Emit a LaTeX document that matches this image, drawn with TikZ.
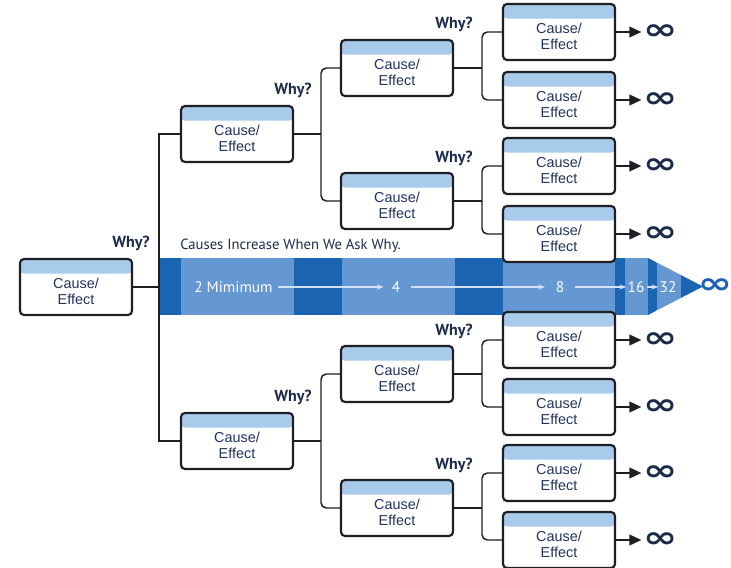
\documentclass[tikz,border=0pt]{standalone}
\usepackage{fontspec}
\setmainfont{Liberation Sans}
\newfontfamily\ptfont{PT Sans}
\newfontfamily\djfont{DejaVu Sans}
\usetikzlibrary{arrows.meta}
\definecolor{darkband}{HTML}{1B64B2}
\definecolor{medband}{HTML}{6598D2}
\definecolor{headblue}{HTML}{A9CBEB}
\definecolor{navy}{HTML}{1C2B4A}
\definecolor{boxtext}{HTML}{22345A}
\definecolor{boxline}{HTML}{1E1E24}
\definecolor{bandline}{HTML}{D2E2F4}
\newcommand\cebox[2]{%
  \node[cebox] (#1) at #2 {};
  \node[cetext] (#1t) at ([yshift=-3pt]#1.center) {Cause/\\Effect};}
\begin{document}
\begin{tikzpicture}[x=0.75pt,y=-0.75pt,
  cebox/.style={draw=boxline, line width=1.6pt, rounded corners=3pt, fill=white,
    minimum width=84pt, minimum height=42pt, inner sep=0pt,
    path picture={\fill[headblue] ([yshift=-11pt]path picture bounding box.north west) rectangle (path picture bounding box.north east);}},
  cetext/.style={font=\fontsize{10.8}{12}\selectfont, text=boxtext, align=center, inner sep=0pt},
  conn/.style={draw=boxline, line width=1.1pt, rounded corners=4pt},
  why/.style={font=\ptfont\bfseries\fontsize{12}{12}\selectfont, text=navy, inner sep=0pt},
  inf/.style={font=\djfont\bfseries\fontsize{22}{22}\selectfont, text=navy, inner sep=0pt, xscale=1.4},
  infarrow/.style={draw=boxline, line width=1.3pt, -{Triangle[length=9pt,width=8pt]}},
  bandtxt/.style={font=\ptfont\fontsize{11.5}{12}\selectfont, text=white, inner sep=0pt},
  bandarrow/.style={draw=bandline, line width=0.8pt, -{Stealth[length=5pt,width=4pt]}}
]
\useasboundingbox (0,0) rectangle (731,567);

% band (drawn first, boxes overlap it)
\fill[darkband] (160,258) rectangle (181,315);
\fill[medband] (181,258) rectangle (294,315);
\fill[darkband] (294,258) rectangle (342,315);
\fill[medband] (342,258) rectangle (455,315);
\fill[darkband] (455,258) rectangle (503,315);
\fill[medband] (503,258) rectangle (615,315);
\fill[darkband] (615,258) rectangle (625,315);
\fill[medband] (625,258) rectangle (648,315);
\begin{scope}
  \clip (648,258) -- (703,286.5) -- (648,315) -- cycle;
  \fill[darkband] (648,258) rectangle (657,315);
  \fill[medband] (657,258) rectangle (681,315);
  \fill[darkband] (681,258) rectangle (704,315);
\end{scope}

\node[font=\ptfont\fontsize{11}{12}\selectfont, text=navy, anchor=west, inner sep=0pt] (title) at (180,246) {Causes Increase When We Ask Why.};

\node[bandtxt, anchor=west] (n2) at (194,287) {2 Mimimum};
\node[bandtxt] (n4) at (396,287) {4};
\node[bandtxt] (n8) at (560,287) {8};
\node[bandtxt] (n16) at (636,287) {16};
\node[bandtxt] (n32) at (668,287) {32};
\node[inf, text=darkband] (ninf) at (715,286) {∞};
\draw[bandarrow] ([xshift=4pt]n2.east) -- ([xshift=-6pt]n4.west);
\draw[bandarrow] ([xshift=8pt]n4.east) -- ([xshift=-8pt]n8.west);
\draw[bandarrow] ([xshift=8pt]n8.east) -- ([xshift=-1pt]n16.west);
\draw[bandarrow] ([xshift=2pt]n16.east) -- ([xshift=-1pt]n32.west);

% junctions
\coordinate (j0) at (159,287);
\coordinate (j1a) at (321,134);
\coordinate (j1b) at (321,441);
\coordinate (j2a) at (482,68);
\coordinate (j2b) at (482,201);
\coordinate (j2c) at (482,374);
\coordinate (j2d) at (482,508);

% boxes
\cebox{r}{(76,287)}
\cebox{a}{(237,134)}
\cebox{b}{(237,441)}
\cebox{aa}{(397,68)}
\cebox{ab}{(397,201)}
\cebox{ba}{(397,374)}
\cebox{bb}{(397,508)}
\cebox{aaa}{(559,32)}
\cebox{aab}{(559,100)}
\cebox{aba}{(559,166)}
\cebox{abb}{(559,234)}
\cebox{baa}{(559,340)}
\cebox{bab}{(559,407)}
\cebox{bba}{(559,473)}
\cebox{bbb}{(559,540)}

% connectors
\draw[conn, rounded corners=0pt] (r.east) -- (j0);
\draw[conn, rounded corners=0pt] (a.west) -| (j0) |- (b.west);
\draw[conn] (a.east) -- (j1a);
\draw[conn] (aa.west) -| (j1a) |- (ab.west);
\draw[conn] (b.east) -- (j1b);
\draw[conn] (ba.west) -| (j1b) |- (bb.west);
\draw[conn] (aa.east) -- (j2a);
\draw[conn] (aaa.west) -| (j2a) |- (aab.west);
\draw[conn] (ab.east) -- (j2b);
\draw[conn] (aba.west) -| (j2b) |- (abb.west);
\draw[conn] (ba.east) -- (j2c);
\draw[conn] (baa.west) -| (j2c) |- (bab.west);
\draw[conn] (bb.east) -- (j2d);
\draw[conn] (bba.west) -| (j2d) |- (bbb.west);

% infinity ends
\foreach \n in {aaa,aab,aba,abb,baa,bab,bba,bbb}{
  \node[inf, anchor=west] (\n-inf) at ([xshift=20pt]\n.east) {∞};
  \draw[infarrow] (\n.east) -- ([xshift=-1pt]\n-inf.west);
}

% why labels
\node[why] (w0) at (131,243) {Why?};
\node[why] (w1) at (293,90) {Why?};
\node[why] (w2) at (293,397) {Why?};
\node[why] (w3) at (454,24) {Why?};
\node[why] (w4) at (454,158) {Why?};
\node[why] (w5) at (454,331) {Why?};
\node[why] (w6) at (454,465) {Why?};
\end{tikzpicture}
\end{document}
